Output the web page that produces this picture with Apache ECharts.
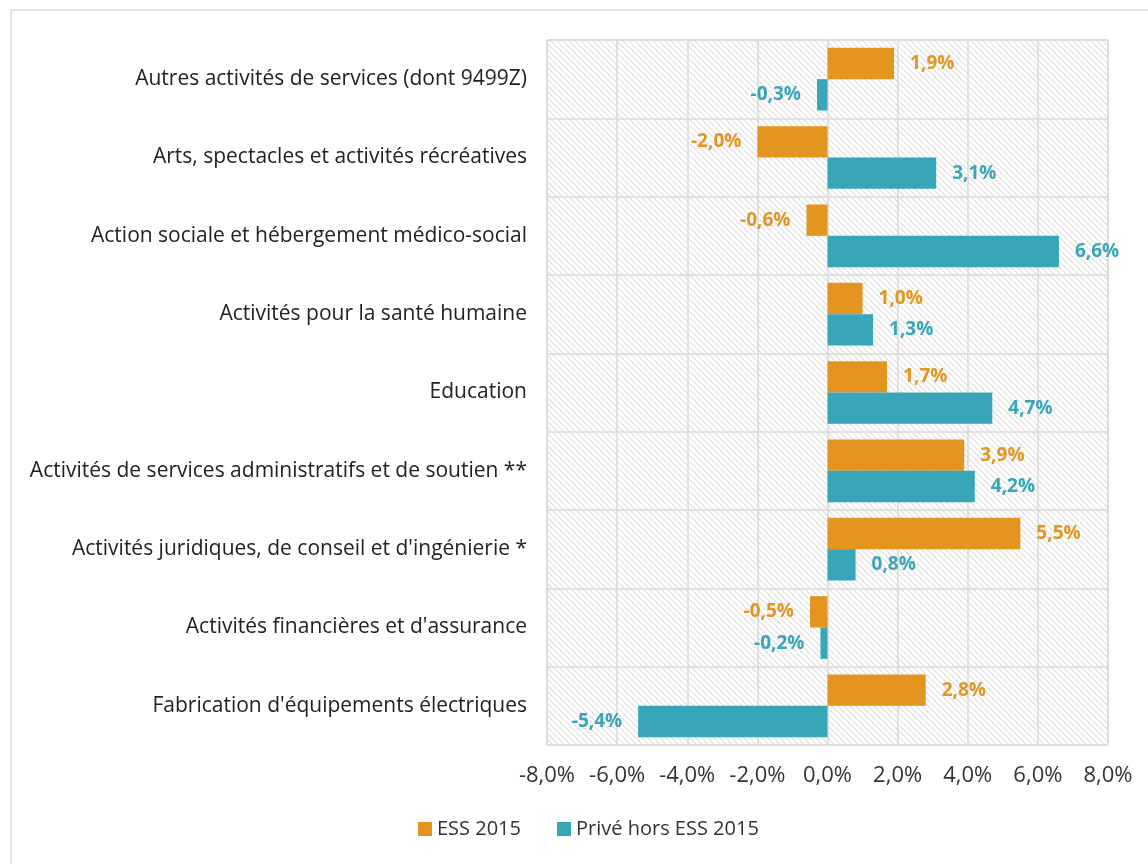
<!DOCTYPE html>
<html style="height: 100%">
  <head>
    <meta charset="utf-8" />
  </head>
  <body style="height: 100%; margin: 0; background: #fff">
    <div id="container" style="width: 1148px; height: 864px"></div>
    <script
      type="text/javascript"
      src="https://cdn.jsdelivr.net/npm/echarts@6/dist/echarts.min.js"
    ></script>

    <script type="text/javascript">
      var dom = document.getElementById("container");
      var myChart = echarts.init(dom);

      // catégories, de haut en bas
      let categories = [
        "Autres activités de services (dont 9499Z)",
        "Arts, spectacles et activités récréatives",
        "Action sociale et hébergement médico-social",
        "Activités pour la santé humaine",
        "Education",
        "Activités de services administratifs et de soutien **",
        "Activités juridiques, de conseil et d'ingénierie *",
        "Activités financières et d'assurance",
        "Fabrication d'équipements électriques",
      ];
      let seriesNames = ["ESS 2015", "Privé hors ESS 2015"];
      let essValues = [1.9, -2.0, -0.6, 1.0, 1.7, 3.9, 5.5, -0.5, 2.8];
      let priveValues = [-0.3, 3.1, 6.6, 1.3, 4.7, 4.2, 0.8, -0.2, -5.4];
      let xTicks = { min: -8, max: 8, interval: 2 };

      let colors = ["#e3951f", "#38a6b8"];
      let font = "'Open Sans', Lato, sans-serif";

      // fond hachuré
      let hatch = document.createElement("canvas");
      let s = 6;
      hatch.width = s;
      hatch.height = s;
      let ctx = hatch.getContext("2d");
      ctx.fillStyle = "#ffffff";
      ctx.fillRect(0, 0, s, s);
      ctx.strokeStyle = "#dedede";
      ctx.lineWidth = 1.2;
      for (let k = -s; k <= s; k += s) {
        ctx.beginPath();
        ctx.moveTo(k, 0);
        ctx.lineTo(k + s, s);
        ctx.stroke();
      }

      function fmt(v) {
        return v.toFixed(1).replace(".", ",") + "%";
      }

      function makeData(values) {
        return values.map(function (v) {
          return {
            value: v,
            label: {
              position: v < 0 ? "left" : "right",
            },
          };
        });
      }

      function makeSeries(name, values, color) {
        return {
          name: name,
          type: "bar",
          barGap: "0%",
          barCategoryGap: "20%",
          itemStyle: { color: color },
          label: {
            show: true,
            distance: 16,
            color: color,
            fontWeight: "bold",
            fontSize: 19,
            fontFamily: font,
            formatter: function (p) {
              return fmt(p.value);
            },
          },
          data: makeData(values),
        };
      }

      var option = {
        animation: false,
        backgroundColor: "#fff",
        textStyle: { fontFamily: font },
        graphic: [
          {
            type: "rect",
            shape: { x: 11, y: 10, width: 1200, height: 900 },
            style: { fill: "none", stroke: "#d9d9d9", lineWidth: 1.5 },
            silent: true,
          },
        ],
        grid: {
          left: 547,
          right: 40,
          top: 40,
          bottom: 119,
          show: true,
          borderColor: "#d9d9d9",
          borderWidth: 1,
          backgroundColor: { image: hatch, repeat: "repeat" },
        },
        legend: {
          bottom: 20,
          left: 413,
          icon: "rect",
          itemWidth: 14,
          itemHeight: 14,
          itemGap: 36,
          textStyle: { fontSize: 20, color: "#333", fontFamily: font },
          data: seriesNames,
        },
        xAxis: {
          type: "value",
          min: xTicks.min,
          max: xTicks.max,
          interval: xTicks.interval,
          axisLine: { show: false },
          axisTick: { show: false },
          splitLine: { lineStyle: { color: "#d9d9d9", width: 1.5 } },
          axisLabel: {
            margin: 20,
            fontSize: 22,
            color: "#333",
            fontFamily: font,
            formatter: fmt,
          },
        },
        yAxis: {
          type: "category",
          inverse: true,
          data: categories,
          axisLine: { show: false },
          axisTick: { show: false },
          splitLine: { show: true, lineStyle: { color: "#d9d9d9", width: 1.5 } },
          axisLabel: {
            margin: 20,
            fontSize: 21,
            color: "#222",
            fontFamily: font,
          },
        },
        series: [
          makeSeries(seriesNames[0], essValues, colors[0]),
          makeSeries(seriesNames[1], priveValues, colors[1]),
        ],
      };

      myChart.setOption(option);
    </script>
  </body>
</html>
